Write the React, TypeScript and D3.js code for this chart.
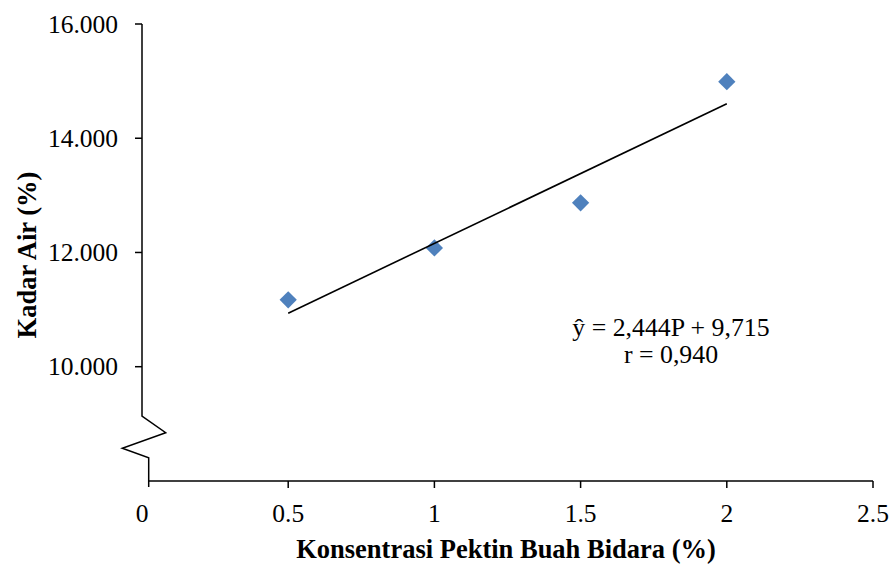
import * as d3 from 'd3'

// data
const konsentrasi = [0.5, 1, 1.5, 2]
const kadarAir = [11.17, 12.08, 12.87, 14.99]
const yTicks = [10, 12, 14, 16]
const xTicks = [0, 0.5, 1, 1.5, 2, 2.5]
const slope = 2.444
const intercept = 9.715
const eqLines = ['ŷ = 2,444P + 9,715', 'r = 0,940']

const W = 892
const H = 564
const FONT = '"Liberation Serif", "Times New Roman", serif'

const App = () => {
  const x = d3.scaleLinear().domain([0, 2.5]).range([142, 873])
  const y = d3.scaleLinear().domain([10, 16]).range([366.7, 24])

  const axisY = 481
  const breakTop = y(9.137)
  const x0 = x(0)

  const diamond = d3.symbol().type(d3.symbolDiamond2).size(190)
  const trend = d3
    .line<number>()
    .x((d) => x(d))
    .y((d) => y(slope * d + intercept))

  // zigzag for the broken y-axis
  const breakPath = d3.line()([
    [x0, y(16)],
    [x0, breakTop],
    [x0 + 23.7, breakTop + 16.7],
    [x0 - 19.7, breakTop + 32.3],
    [x0 + 6.7, breakTop + 41.7],
    [x0 + 6.7, axisY + 6],
  ])

  const fmt = (v: number) => d3.format('.3f')(v)

  return (
    <svg
      width={W}
      height={H}
      style={{ position: 'absolute', left: 0, top: 0, background: '#fff' }}
      fontFamily={FONT}
    >
      {/* y axis */}
      <path d={breakPath ?? ''} fill="none" stroke="#000" strokeWidth={1.5} />
      {yTicks.map((t) => (
        <g key={t} transform={`translate(0, ${y(t)})`}>
          <line x1={x0 - 7} x2={x0} stroke="#000" strokeWidth={1.5} />
          <text x={118} y={8.5} textAnchor="end" fontSize={25.5} fill="#000">
            {fmt(t)}
          </text>
        </g>
      ))}

      {/* x axis */}
      <line x1={x0 + 6.7} x2={x(2.5)} y1={axisY} y2={axisY} stroke="#000" strokeWidth={1.5} />
      {xTicks.map((t) => (
        <g key={t} transform={`translate(${x(t)}, ${axisY})`}>
          {t > 0 && <line y1={0} y2={7} stroke="#000" strokeWidth={1.5} />}
          <text y={41} textAnchor="middle" fontSize={25.5} fill="#000">
            {t}
          </text>
        </g>
      ))}

      {/* points */}
      {konsentrasi.map((k, i) => (
        <path
          key={k}
          d={diamond() ?? ''}
          transform={`translate(${x(k)}, ${y(kadarAir[i])})`}
          fill="#4f81bd"
        />
      ))}

      {/* trendline */}
      <path d={trend([0.5, 2]) ?? ''} fill="none" stroke="#000" strokeWidth={1.6} />

      {/* equation */}
      {eqLines.map((s, i) => (
        <text key={s} x={671} y={336 + i * 27} textAnchor="middle" fontSize={25.8} fill="#000">
          {s}
        </text>
      ))}

      {/* titles */}
      <text
        transform="translate(36, 255) rotate(-90)"
        textAnchor="middle"
        fontSize={26.5}
        fontWeight="bold"
        fill="#000"
      >
        Kadar Air (%)
      </text>
      <text x={506} y={558} textAnchor="middle" fontSize={26.5} fontWeight="bold" fill="#000">
        Konsentrasi Pektin Buah Bidara (%)
      </text>
    </svg>
  )
}

export default App
